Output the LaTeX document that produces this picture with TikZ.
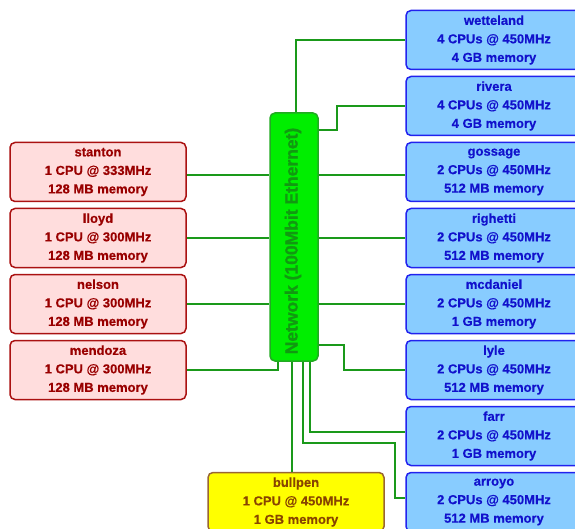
\documentclass[tikz,border=0pt]{standalone}
\usepackage{fontspec}
\setmainfont{Liberation Sans Bold}[FakeBold=0.4]
\newfontfamily\netfont{Liberation Sans Bold}[FakeBold=1.2]
\definecolor{rfill}{HTML}{88CCFF}
\definecolor{rdraw}{HTML}{2222EE}
\definecolor{rtext}{HTML}{1111CC}
\definecolor{lfill}{HTML}{FFDDDD}
\definecolor{ldraw}{HTML}{AA1111}
\definecolor{ltext}{HTML}{990000}
\definecolor{yfill}{HTML}{FFFF00}
\definecolor{ydraw}{HTML}{996633}
\definecolor{ytext}{HTML}{884400}
\definecolor{nfill}{HTML}{00EE00}
\definecolor{ndraw}{HTML}{22AA22}
\definecolor{ntext}{HTML}{119911}
\definecolor{wire}{HTML}{1A991A}
\tikzset{
  host/.style={rounded corners=5pt, line width=1.5pt, minimum width=176pt, minimum height=59pt,
    inner sep=0pt},
  rbox/.style={host, fill=rfill, draw=rdraw},
  lbox/.style={host, fill=lfill, draw=ldraw},
  ybox/.style={host, fill=yfill, draw=ydraw},
  netbox/.style={rounded corners=5pt, line width=1.5pt, fill=nfill, draw=ndraw,
    minimum width=48pt, minimum height=248pt, inner sep=0pt},
  wirestyle/.style={draw=wire, line width=1.6pt},
  lbl/.style={align=center, inner sep=0pt, font=\fontsize{13}{18.5}\selectfont}
}
\begin{document}
\begin{tikzpicture}[x=1pt,y=-1pt]
\useasboundingbox (0,0) rectangle (575,529);
\begin{scope}
\clip (0,0) rectangle (575,529);
\node[netbox] (net) at (294,237) {};
\node[rbox] (wetteland) at (494,40) {};
\node[rbox] (rivera) at (494,106) {};
\node[rbox] (gossage) at (494,172) {};
\node[rbox] (righetti) at (494,238) {};
\node[rbox] (mcdaniel) at (494,304) {};
\node[rbox] (lyle) at (494,370) {};
\node[rbox] (farr) at (494,436) {};
\node[rbox] (arroyo) at (494,502) {};
\node[lbox] (stanton) at (98,172) {};
\node[lbox] (lloyd) at (98,238) {};
\node[lbox] (nelson) at (98,304) {};
\node[lbox] (mendoza) at (98,370) {};
\node[ybox] (bullpen) at (296,502) {};
% connectors
\draw[wirestyle] ([xshift=2pt]net.north) |- (wetteland.west);
\draw[wirestyle] ([yshift=-18pt]net.north east) -- ++(18,0) |- (rivera.west);
\draw[wirestyle] ([yshift=-3pt]net.east |- gossage.west) -- ([yshift=-3pt]gossage.west);
\draw[wirestyle] (net.east |- righetti.west) -- (righetti.west);
\draw[wirestyle] (net.east |- mcdaniel.west) -- (mcdaniel.west);
\draw[wirestyle] ([yshift=17pt]net.south east) -- ++(25,0) |- (lyle.west);
\draw[wirestyle] ([xshift=16pt]net.south) |- ([yshift=4pt]farr.west);
\draw[wirestyle] ([xshift=9pt]net.south) |- (395,443) |- ([yshift=4pt]arroyo.west);
\draw[wirestyle] ([xshift=-2pt]net.south) -- ([xshift=-2pt]net.south |- bullpen.north);
\draw[wirestyle] ([yshift=-3pt]stanton.east) -- ([yshift=-3pt]stanton.east -| net.west);
\draw[wirestyle] (lloyd.east) -- (lloyd.east -| net.west);
\draw[wirestyle] (nelson.east) -- (nelson.east -| net.west);
\draw[wirestyle] (mendoza.east) -| ([xshift=-16pt]net.south);
% texts
\node[text=ntext, rotate=90, inner sep=0pt, font=\netfont\fontsize{17.5}{20}\selectfont] (nettext) at (293,241) {Network (100Mbit Ethernet)};
\node[lbl, text=rtext] (t1) at (wetteland.center) {wetteland\\4 CPUs @ 450MHz\\4 GB memory};
\node[lbl, text=rtext] (t2) at (rivera.center) {rivera\\4 CPUs @ 450MHz\\4 GB memory};
\node[lbl, text=rtext] (t3) at (gossage.center) {gossage\\2 CPUs @ 450MHz\\512 MB memory};
\node[lbl, text=rtext] (t4) at (righetti.center) {righetti\\2 CPUs @ 450MHz\\512 MB memory};
\node[lbl, text=rtext] (t5) at (mcdaniel.center) {mcdaniel\\2 CPUs @ 450MHz\\1 GB memory};
\node[lbl, text=rtext] (t6) at (lyle.center) {lyle\\2 CPUs @ 450MHz\\512 MB memory};
\node[lbl, text=rtext] (t7) at (farr.center) {farr\\2 CPUs @ 450MHz\\1 GB memory};
\node[lbl, text=rtext] (t8) at (arroyo.center) {arroyo\\2 CPUs @ 450MHz\\512 MB memory};
\node[lbl, text=ltext] (t9) at (stanton.center) {stanton\\1 CPU @ 333MHz\\128 MB memory};
\node[lbl, text=ltext] (t10) at (lloyd.center) {lloyd\\1 CPU @ 300MHz\\128 MB memory};
\node[lbl, text=ltext] (t11) at (nelson.center) {nelson\\1 CPU @ 300MHz\\128 MB memory};
\node[lbl, text=ltext] (t12) at (mendoza.center) {mendoza\\1 CPU @ 300MHz\\128 MB memory};
\node[lbl, text=ytext] (t13) at (bullpen.center) {bullpen\\1 CPU @ 450MHz\\1 GB memory};
\end{scope}
\end{tikzpicture}
\end{document}
